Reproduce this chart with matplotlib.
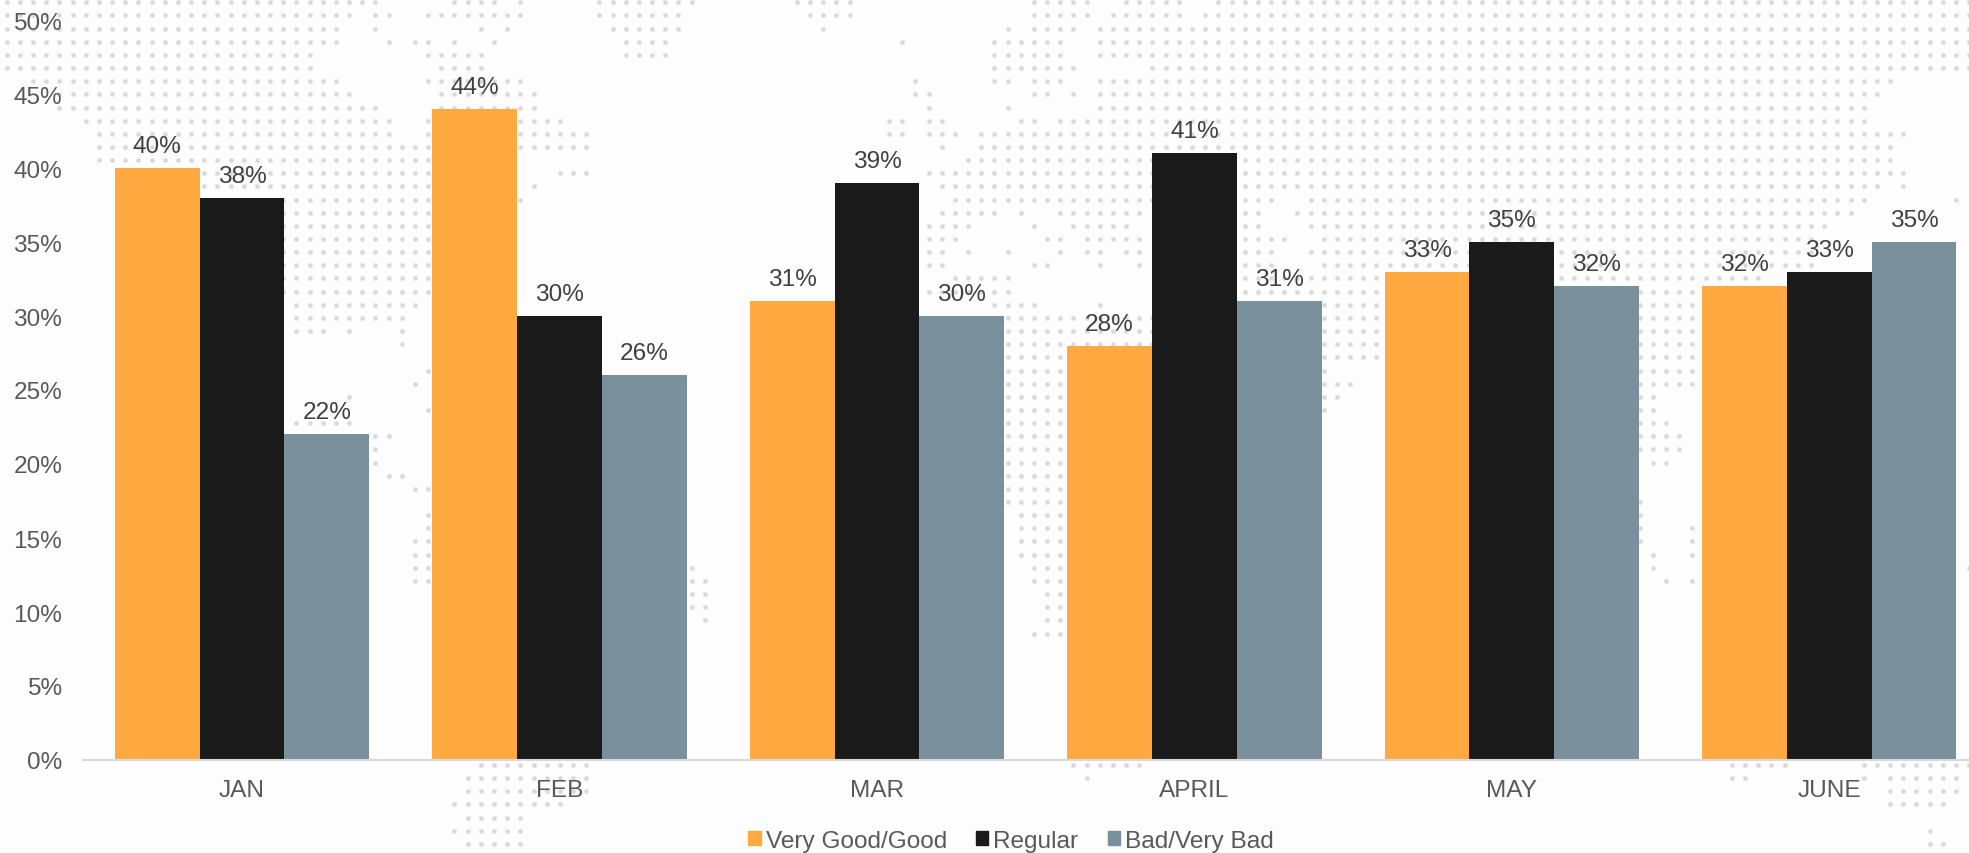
import numpy as np
import matplotlib
matplotlib.use('Agg')
import matplotlib.pyplot as plt
from matplotlib.patches import Patch

plt.rcParams['font.family'] = ['Liberation Sans', 'DejaVu Sans']

months = ['JAN', 'FEB', 'MAR', 'APRIL', 'MAY', 'JUNE']
good = [40, 44, 31, 28, 33, 32]
regular = [38, 30, 39, 41, 35, 33]
bad = [22, 26, 30, 31, 32, 35]
y_ticks = [0, 5, 10, 15, 20, 25, 30, 35, 40, 45, 50]

orange = '#FFA940'
black = '#1A1A1A'
slate = '#7A909C'

# dotted world map behind the chart: row number -> stretches of dots, in image pixels
map_rows = {
    0: [(0, 345), (362, 382), (455, 500), (520, 520), (600, 685), (795, 855), (1030, 1090), (1125, 1185), (1215, 1969)],
    1: [(0, 355), (375, 395), (430, 515), (600, 672), (808, 855), (1030, 1090), (1110, 1185), (1205, 1969)],
    2: [(0, 335), (378, 378), (484, 484), (510, 510), (612, 672), (825, 825), (1005, 1005), (1030, 1075), (1097, 1969)],
    3: [(0, 330), (392, 392), (415, 430), (457, 457), (497, 497), (625, 670), (905, 905), (993, 1065), (1097, 1969)],
    4: [(0, 315), (430, 475), (625, 660), (993, 1065), (1097, 1969)],
    5: [(10, 315), (445, 475), (993, 1078), (1150, 1969)],
    6: [(35, 330), (430, 525), (917, 917), (993, 1010), (1030, 1065), (1097, 1892)],
    7: [(65, 345), (445, 530), (913, 930), (1030, 1045), (1075, 1075), (1097, 1880)],
    8: [(65, 370), (445, 540), (930, 930), (1005, 1005), (1097, 1862)],
    9: [(90, 395), (430, 565), (890, 905), (930, 945), (1020, 1030), (1060, 1865)],
    10: [(100, 395), (430, 580), (890, 905), (930, 960), (980, 1905)],
    11: [(100, 420), (430, 580), (945, 945), (980, 1892)],
    12: [(100, 430), (965, 1892)],
    13: [(210, 430), (560, 590), (930, 1905)],
    14: [(210, 430), (535, 535), (945, 1880), (1900, 1900)],
    15: [(284, 430), (525, 525), (955, 1150), (1245, 1270), (1305, 1865), (1950, 1950)],
    16: [(284, 430), (940, 995), (1020, 1020), (1058, 1145), (1243, 1260), (1295, 1850)],
    17: [(284, 430), (925, 970), (1030, 1030), (1072, 1130), (1243, 1260), (1305, 1825)],
    18: [(284, 430), (925, 960), (1045, 1060), (1085, 1145), (1243, 1280), (1320, 1810)],
    19: [(284, 430), (925, 945), (970, 970), (1005, 1005), (1060, 1060), (1085, 1100), (1125, 1145), (1243, 1275), (1305, 1810)],
    20: [(284, 430), (925, 945), (1030, 1050), (1100, 1100), (1140, 1140), (1243, 1275), (1320, 1812)],
    21: [(284, 430), (953, 1010), (1243, 1760)],
    22: [(284, 430), (925, 1010), (1238, 1383), (1640, 1700)],
    23: [(300, 410), (1000, 1040), (1100, 1100), (1240, 1385), (1640, 1700)],
    24: [(300, 397), (1000, 1150), (1240, 1383), (1640, 1700)],
    25: [(300, 318), (352, 352), (405, 405), (1000, 1383), (1640, 1700)],
    26: [(405, 405), (1000, 1383), (1640, 1700)],
    27: [(1000, 1383), (1640, 1700)],
    28: [(430, 430), (1000, 1065), (1240, 1325), (1640, 1700)],
    29: [(418, 418), (1000, 1065), (1240, 1355), (1640, 1700)],
    30: [(352, 352), (1000, 1065), (1240, 1340), (1640, 1650)],
    31: [(430, 430), (1000, 1065), (1325, 1325), (1640, 1650)],
    32: [(300, 355), (1000, 1065), (1640, 1670)],
    33: [(335, 395), (1000, 1065), (1640, 1680)],
    34: [(375, 380), (1000, 1065), (1640, 1680)],
    35: [(380, 380), (1000, 1065), (1650, 1665)],
    36: [(392, 405), (1000, 1065)],
    37: [(418, 430), (1000, 1065)],
    38: [(1000, 1065), (1640, 1640)],
    39: [(430, 430), (1015, 1065), (1640, 1640)],
    40: [(430, 430), (1015, 1065), (1640, 1640), (1690, 1700)],
    41: [(418, 430), (1015, 1065), (1640, 1640), (1690, 1700)],
    42: [(418, 430), (1015, 1065), (1650, 1650), (1690, 1700)],
    43: [(418, 430), (695, 695), (1030, 1065), (1650, 1650), (1965, 1965)],
    44: [(418, 430), (695, 710), (1030, 1065), (1665, 1665), (1690, 1690)],
    45: [(695, 710), (1045, 1065)],
    46: [(695, 710), (1045, 1065)],
    47: [(700, 710), (1045, 1065)],
    48: [(1030, 1060)],
    58: [(480, 590), (1075, 1140), (1729, 1782), (1860, 1969)],
    59: [(465, 590), (1087, 1087), (1729, 1745), (1860, 1860), (1885, 1955)],
    60: [(470, 590), (1885, 1955)],
    61: [(455, 565), (1895, 1940)],
    62: [(470, 525)],
    63: [(455, 525), (1935, 1935)],
    64: [(470, 525), (1925, 1940)],
    65: [(470, 510)],
}

fig = plt.figure(figsize=(19.69, 8.54), dpi=100, facecolor='#FDFDFD')

bg = fig.add_axes([0, 0, 1, 1], zorder=0)
bg.set_xlim(0, 1969)
bg.set_ylim(854, 0)
bg.axis('off')
dot_x, dot_y = [], []
for row, stretches in map_rows.items():
    for x0, x1 in stretches:
        for k in range(round((x0 - 6.7) / 13.17), round((x1 - 6.7) / 13.17) + 1):
            dot_x.append(6.7 + 13.17 * k)
            dot_y.append(3.3 + 13.15 * row)
bg.scatter(dot_x, dot_y, s=16, color='#EAEAEA', linewidths=0)
bg.scatter(dot_x, dot_y, s=6, color='#D6D6D6', linewidths=0)

ax = fig.add_axes([83 / 1969, (854 - 761) / 854, (1969 - 83) / 1969, 740 / 854], zorder=1)
ax.patch.set_alpha(0)

x = np.arange(len(months))
w = 0.267
series = [('Very Good/Good', good, orange, -w), ('Regular', regular, black, 0), ('Bad/Very Bad', bad, slate, w)]
for name, vals, col, off in series:
    bars = ax.bar(x + off, vals, w, color=col, label=name)
    for b, v in zip(bars, vals):
        ax.annotate(f'{v}%', (b.get_x() + b.get_width() / 2, v), xytext=(0, 11.5),
                    textcoords='offset points', ha='center', va='baseline',
                    fontsize=17.6, color='#404040', clip_on=False)

ax.set_xlim(-0.5008, 5.44)
ax.set_ylim(0, 50)
ax.set_xticks(x)
ax.set_xticklabels(months)
ax.set_yticks(y_ticks)
ax.set_yticklabels([f'{t}%' for t in y_ticks])
ax.tick_params(axis='x', length=0, pad=13.5, labelsize=17.6, labelcolor='#595959')
ax.tick_params(axis='y', length=0, pad=15, labelsize=17.6, labelcolor='#595959')
for side in ['top', 'right', 'left']:
    ax.spines[side].set_visible(False)
ax.spines['bottom'].set_color('#D9D9D9')
ax.spines['bottom'].set_linewidth(1.5)

handles = [Patch(color=col, label=name) for name, vals, col, off in series]
fig.legend(handles=handles, loc='center', bbox_to_anchor=(1011 / 1969, 1 - 842 / 854), ncol=3,
           frameon=False, fontsize=17.6, labelcolor='#595959', handlelength=0.5, handleheight=0.5,
           handletextpad=0.2, columnspacing=1.2, borderpad=0)

fig.savefig('out.png', dpi=100, facecolor=fig.get_facecolor())
